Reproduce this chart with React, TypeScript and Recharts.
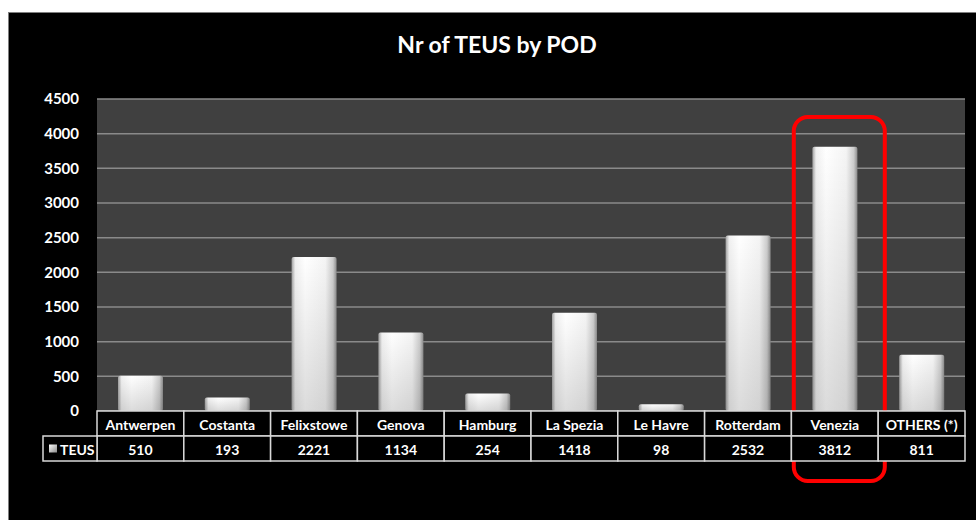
import { BarChart, Bar, XAxis, YAxis, CartesianGrid, ReferenceDot } from 'recharts';

const ports = ['Antwerpen', 'Costanta', 'Felixstowe', 'Genova', 'Hamburg', 'La Spezia', 'Le Havre', 'Rotterdam', 'Venezia', 'OTHERS (*)'];
const teus = [510, 193, 2221, 1134, 254, 1418, 98, 2532, 3812, 811];
const yTicks = [0, 500, 1000, 1500, 2000, 2500, 3000, 3500, 4000, 4500];
const seriesName = 'TEUS';
const highlighted = 'Venezia';

const data = ports.map((port, i) => ({ port, teus: teus[i] }));

const CHART_W = 968;
const CHART_H = 508;
const Y_W = 89;
const MARGIN = { top: 87, right: 11, left: 0, bottom: 59 };
const BAND = (CHART_W - MARGIN.left - MARGIN.right - Y_W) / ports.length;
const ROW_H = 25;
const FONT = 'Lato, "Open Sans", sans-serif';

const TableTick = (props: any) => {
    const { x, y, payload } = props;
    const idx = ports.indexOf(payload.value);
    const left = x - BAND / 2;
    return (
        <g>
            <rect x={left} y={y} width={BAND} height={ROW_H} fill="#000" stroke="#d9d9d9" strokeWidth={1.5} />
            <rect x={left} y={y + ROW_H} width={BAND} height={ROW_H} fill="#000" stroke="#d9d9d9" strokeWidth={1.5} />
            <text x={x} y={y + ROW_H / 2 + 1} textAnchor="middle" dominantBaseline="central" fill="#fff" fontSize={14} fontWeight={700} fontFamily={FONT}>
                {payload.value}
            </text>
            <text x={x} y={y + ROW_H * 1.5 + 1} textAnchor="middle" dominantBaseline="central" fill="#fff" fontSize={14} fontWeight={700} fontFamily={FONT}>
                {teus[idx]}
            </text>
            {idx === 0 && (
                <g>
                    <rect x={left - 54} y={y + ROW_H} width={54} height={ROW_H} fill="#000" stroke="#d9d9d9" strokeWidth={1.5} />
                    <defs>
                        <linearGradient id="legendSwatch" x1="0" y1="0" x2="1" y2="1">
                            <stop offset="0%" stopColor="#ffffff" />
                            <stop offset="100%" stopColor="#8a8a8a" />
                        </linearGradient>
                    </defs>
                    <rect x={left - 48} y={y + ROW_H * 1.5 - 4} width={8} height={8} fill="url(#legendSwatch)" />
                    <text x={left - 37} y={y + ROW_H * 1.5 + 1} dominantBaseline="central" fill="#fff" fontSize={14} fontWeight={700} fontFamily={FONT}>
                        {seriesName}
                    </text>
                </g>
            )}
        </g>
    );
};

const BarShape = (props: any) => {
    const { x, y, width, height, index } = props;
    if (!height || height <= 0) return null;
    const h = `barH${index}`;
    const v = `barV${index}`;
    return (
        <g>
            <defs>
                <linearGradient id={h} x1="0" y1="0" x2="1" y2="0">
                    <stop offset="0%" stopColor="#a0a0a0" />
                    <stop offset="8%" stopColor="#f0f0f0" />
                    <stop offset="30%" stopColor="#ffffff" />
                    <stop offset="75%" stopColor="#f4f4f4" />
                    <stop offset="92%" stopColor="#cccccc" />
                    <stop offset="100%" stopColor="#8c8c8c" />
                </linearGradient>
                <linearGradient id={v} x1="0" y1="0" x2="0" y2="1">
                    <stop offset="0%" stopColor="#000" stopOpacity={0} />
                    <stop offset="100%" stopColor="#000" stopOpacity={0.14} />
                </linearGradient>
            </defs>
            <rect x={x} y={y} width={width} height={height} rx={2} fill={`url(#${h})`} />
            <rect x={x} y={y} width={width} height={height} rx={2} fill={`url(#${v})`} />
        </g>
    );
};

const Highlight = (props: any) => {
    const { cx, cy } = props;
    return (
        <rect x={cx - 41} y={cy + 18} width={91} height={364} rx={14} ry={14} fill="none" stroke="#ff0000" strokeWidth={4} />
    );
};

const App = () => {
    return (
        <div style={{ position: 'fixed', left: 0, top: 0, width: 976, height: 520, background: '#fff', overflow: 'hidden' }}>
            <div
                style={{
                    position: 'absolute',
                    left: 8,
                    top: 12,
                    width: CHART_W,
                    height: CHART_H,
                    background: '#000',
                    borderTop: '1px solid #7f7f7f',
                    borderLeft: '1px solid #7f7f7f',
                    boxSizing: 'border-box',
                }}
            >
                <div
                    style={{
                        position: 'absolute',
                        left: 0,
                        top: 17,
                        width: CHART_W + 8,
                        textAlign: 'center',
                        color: '#fff',
                        fontFamily: FONT,
                        fontWeight: 700,
                        fontSize: 23,
                    }}
                >
                    Nr of TEUS by POD
                </div>
            </div>
            <div style={{ position: 'absolute', left: 8, top: 12 }}>
                <BarChart width={CHART_W} height={CHART_H} data={data} margin={MARGIN} barSize={45}>
                    <CartesianGrid vertical={false} stroke="#8a8a8a" strokeWidth={1.5} fill="#404040" fillOpacity={1} />
                    <YAxis
                        width={Y_W}
                        domain={[0, 4500]}
                        ticks={yTicks}
                        interval={0}
                        axisLine={false}
                        tickLine={false}
                        tickSize={0}
                        tickMargin={18}
                        tick={{ fill: '#fff', fontSize: 15, fontWeight: 700, fontFamily: FONT }}
                    />
                    <XAxis dataKey="port" height={50} interval={0} axisLine={false} tickLine={false} tickSize={0} tickMargin={0} tick={<TableTick />} />
                    <Bar dataKey="teus" name={seriesName} shape={<BarShape />} isAnimationActive={false} />
                    <ReferenceDot x={highlighted} y={4500} ifOverflow="visible" shape={<Highlight />} />
                </BarChart>
            </div>
        </div>
    );
};

export default App;
